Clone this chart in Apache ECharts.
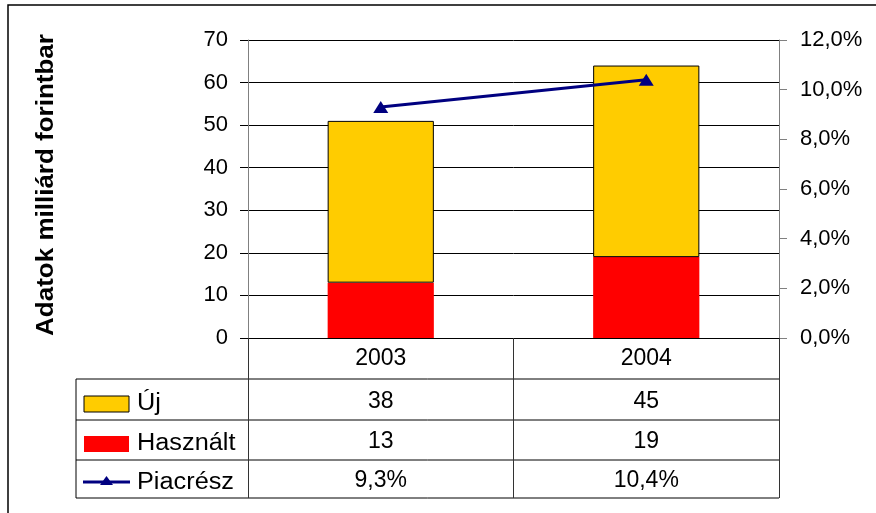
<!DOCTYPE html>
<html>
<head>
<meta charset="utf-8">
<script src="https://cdn.jsdelivr.net/npm/echarts@6/dist/echarts.min.js"></script>
<style>
  html, body { margin: 0; padding: 0; background: #fff; }
  #main { width: 876px; height: 513px; }
</style>
</head>
<body>
<div id="main"></div>
<script>
// adatok
var categories = ['2003', '2004'];
var ujValues = [38, 45];
var hasznaltValues = [13, 19];
var piacreszValues = [9.3, 10.4];
var seriesNames = ['Új', 'Használt', 'Piacrész'];

var FONT = '"Liberation Sans", Arial, sans-serif';
var NAVY = '#000080';

function pct(v) {
    return v.toFixed(1).replace('.', ',') + '%';
}

var myChart = echarts.init(document.getElementById('main'));

var option = {
    backgroundColor: '#fff',
    animation: false,
    textStyle: { fontFamily: FONT },
    grid: { left: 248, right: 97, top: 40, bottom: 175 },
    xAxis: {
        type: 'category',
        data: categories,
        axisLine: { lineStyle: { color: '#000', width: 1 } },
        axisTick: { show: true, alignWithLabel: false, length: 160, lineStyle: { color: '#333' } },
        axisLabel: { color: '#000', fontSize: 23, fontFamily: FONT, margin: 9 }
    },
    yAxis: [{
        type: 'value',
        min: 0, max: 70, interval: 10,
        axisLine: { show: true, lineStyle: { color: '#808080' } },
        axisTick: { show: true, length: 8, lineStyle: { color: '#000' } },
        axisLabel: { color: '#000', fontSize: 22, fontFamily: FONT, margin: 20 },
        splitLine: { lineStyle: { color: '#000', width: 1 } }
    }, {
        type: 'value',
        min: 0, max: 12, interval: 2,
        position: 'right',
        axisLine: { show: true, lineStyle: { color: '#808080' } },
        axisTick: { show: true, length: 8, lineStyle: { color: '#808080' } },
        axisLabel: { color: '#000', fontSize: 22, fontFamily: FONT, margin: 21, formatter: pct },
        splitLine: { show: false }
    }],
    series: [{
        name: seriesNames[1],
        type: 'bar',
        stack: 'total',
        barWidth: '40%',
        data: hasznaltValues,
        itemStyle: { color: '#FF0000' }
    }, {
        name: seriesNames[0],
        type: 'bar',
        stack: 'total',
        barWidth: '40%',
        data: ujValues,
        itemStyle: { color: '#FFCC00', borderColor: '#000', borderWidth: 1 }
    }, {
        name: seriesNames[2],
        type: 'line',
        yAxisIndex: 1,
        data: piacreszValues,
        symbol: 'triangle',
        symbolSize: [15, 12],
        lineStyle: { color: NAVY, width: 3 },
        itemStyle: { color: NAVY }
    }]
};

myChart.setOption(option);

// adattábla a diagram alatt
var rows = [
    { name: seriesNames[0], vals: ujValues.map(String), y: 401 },
    { name: seriesNames[1], vals: hasznaltValues.map(String), y: 441 },
    { name: seriesNames[2], vals: piacreszValues.map(pct), y: 480 }
];
var tableLeft = 76, tableRight = 779;
var lineYs = [379, 420, 460, 498];
var g = [];

// külső keret
g.push({ type: 'rect', shape: { x: 8, y: 5, width: 900, height: 600 },
    style: { fill: 'none', stroke: '#000', lineWidth: 1.5 } });

// függőleges tengelycím
g.push({ type: 'text', x: 47, y: 185, rotation: Math.PI / 2, scaleX: 1.13,
    style: { text: 'Adatok milliárd forintbar', font: 'bold 23px ' + FONT, fill: '#000',
        align: 'center', verticalAlign: 'middle' } });

lineYs.forEach(function (y) {
    g.push({ type: 'line', shape: { x1: tableLeft, y1: y, x2: tableRight, y2: y },
        style: { stroke: '#000', lineWidth: 1 } });
});
g.push({ type: 'line', shape: { x1: tableLeft, y1: 379, x2: tableLeft, y2: 498 },
    style: { stroke: '#000', lineWidth: 1 } });

rows.forEach(function (r) {
    r.vals.forEach(function (v, j) {
        var cx = myChart.convertToPixel({ xAxisIndex: 0 }, categories[j]);
        g.push({ type: 'text', x: cx, y: r.y + 1,
            style: { text: v, font: '23px ' + FONT, fill: '#000', align: 'center', verticalAlign: 'middle' } });
    });
    g.push({ type: 'text', x: 137, y: r.y + 3, scaleX: 1.1,
        style: { text: r.name, font: '23px ' + FONT, fill: '#000', align: 'left', verticalAlign: 'middle' } });
});

// jelmagyarázat jelek
g.push({ type: 'rect', shape: { x: 84, y: 396, width: 45, height: 16 },
    style: { fill: '#FFCC00', stroke: '#000', lineWidth: 1 } });
g.push({ type: 'rect', shape: { x: 84, y: 436, width: 45, height: 16 },
    style: { fill: '#FF0000' } });
g.push({ type: 'line', shape: { x1: 83, y1: 482, x2: 130, y2: 482 },
    style: { stroke: NAVY, lineWidth: 3 } });
g.push({ type: 'polygon', shape: { points: [[106.5, 476], [100, 485], [113, 485]] },
    style: { fill: NAVY } });

myChart.setOption({ graphic: g });
</script>
</body>
</html>
